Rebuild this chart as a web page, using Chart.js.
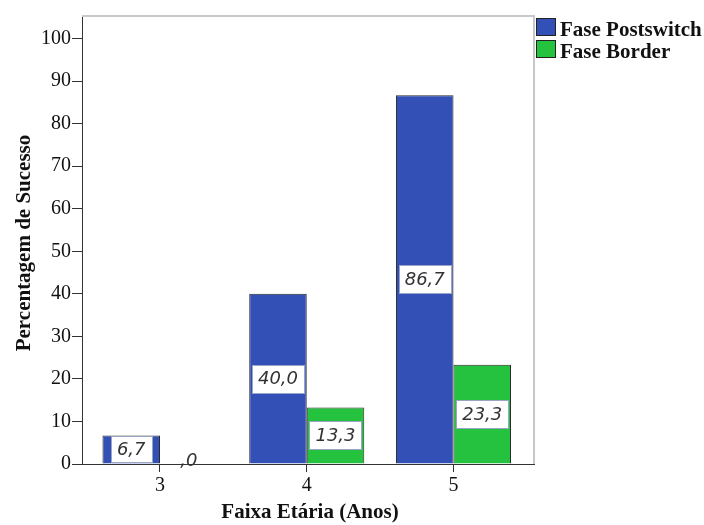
<!DOCTYPE html>
<html>
<head>
<meta charset="utf-8">
<script src="https://cdn.jsdelivr.net/npm/chart.js@4/dist/chart.umd.min.js"></script>
<style>
  html, body { margin: 0; padding: 0; background: #fff; }
  #wrap { width: 704px; height: 525px; }
</style>
</head>
<body>
<div id="wrap"><canvas id="c" width="704" height="525"></canvas></div>
<script>
// Age groups and success percentages per phase
const ages = [3, 4, 5];
const postswitch = [6.7, 40.0, 86.7];
const border = [0.0, 13.3, 23.3];
const yTicks = [0, 10, 20, 30, 40, 50, 60, 70, 80, 90, 100];

const seriesNames = ['Fase Postswitch', 'Fase Border'];
const seriesColors = ['#3350b7', '#24c23f'];

const serif = '"Liberation Serif", "Times New Roman", serif';

function fmt(v) {
  let s = v.toFixed(1).replace('.', ',');
  if (s.startsWith('0,')) s = s.slice(1);
  return s;
}

// White boxed value labels in the middle of each bar
const valueLabels = {
  id: 'valueLabels',
  afterDatasetsDraw(chart) {
    const ctx = chart.ctx;
    ctx.save();
    ctx.font = 'italic 18px "DejaVu Sans", Verdana, sans-serif';
    ctx.textAlign = 'center';
    ctx.textBaseline = 'middle';
    chart.data.datasets.forEach((ds, di) => {
      const meta = chart.getDatasetMeta(di);
      meta.data.forEach((el, i) => {
        const v = ds.data[i].y;
        const txt = fmt(v);
        const h = Math.abs(el.base - el.y);
        if (v === 0) {
          ctx.fillStyle = '#333';
          ctx.fillText(txt, el.x, el.base - 3);
          return;
        }
        const cy = (el.y + el.base) / 2;
        const w = ctx.measureText(txt).width + 12;
        const bh = Math.min(28, h - 2);
        ctx.fillStyle = '#ffffff';
        ctx.fillRect(Math.round(el.x - w / 2) + 0.5, Math.round(cy - bh / 2) + 0.5, Math.round(w), Math.round(bh));
        ctx.strokeStyle = '#9aa4c4';
        ctx.lineWidth = 1;
        ctx.strokeRect(Math.round(el.x - w / 2) + 0.5, Math.round(cy - bh / 2) + 0.5, Math.round(w), Math.round(bh));
        ctx.fillStyle = '#333';
        ctx.fillText(txt, el.x, cy + 1);
      });
    });
    ctx.restore();
  }
};

// Plot frame, axis titles and legend
const decorations = {
  id: 'decorations',
  beforeDatasetsDraw(chart) {
    const { ctx, chartArea: a } = chart;
    ctx.save();
    ctx.strokeStyle = '#c8c8c8';
    ctx.lineWidth = 2;
    ctx.beginPath();
    ctx.moveTo(a.left, a.top);
    ctx.lineTo(a.right, a.top);
    ctx.lineTo(a.right, a.bottom);
    ctx.stroke();
    ctx.restore();
  },
  afterDraw(chart) {
    const { ctx, chartArea: a } = chart;
    ctx.save();
    ctx.fillStyle = '#111';
    ctx.font = 'bold 21px ' + serif;
    // y title
    ctx.save();
    ctx.translate(30, 243);
    ctx.rotate(-Math.PI / 2);
    ctx.textAlign = 'center';
    ctx.textBaseline = 'alphabetic';
    ctx.fillText('Percentagem de Sucesso', 0, 0);
    ctx.restore();
    // x title
    ctx.textAlign = 'center';
    ctx.textBaseline = 'alphabetic';
    ctx.fillText('Faixa Etária (Anos)', (a.left + a.right) / 2 + 2, 518);
    // legend
    ctx.textAlign = 'left';
    seriesNames.forEach((name, i) => {
      const y = 18 + i * 22;
      ctx.fillStyle = seriesColors[i];
      ctx.fillRect(a.right + 2.5, y + 0.5, 19, 17);
      ctx.strokeStyle = '#222';
      ctx.lineWidth = 1;
      ctx.strokeRect(a.right + 2.5, y + 0.5, 19, 17);
      ctx.fillStyle = '#111';
      ctx.fillText(name, a.right + 26, y + 18);
    });
    ctx.restore();
  }
};

new Chart(document.getElementById('c'), {
  type: 'bar',
  data: {
    datasets: [
      { label: seriesNames[0], data: ages.map((a, i) => ({ x: a, y: postswitch[i] })),
        backgroundColor: seriesColors[0], borderColor: '#2a2a2a', borderWidth: 1 },
      { label: seriesNames[1], data: ages.map((a, i) => ({ x: a, y: border[i] })),
        backgroundColor: seriesColors[1], borderColor: '#2a2a2a', borderWidth: 1 }
    ]
  },
  options: {
    responsive: false,
    animation: false,
    categoryPercentage: 0.784,
    barPercentage: 1,
    layout: { padding: { top: 16, right: 170, left: 0, bottom: 0 } },
    plugins: { legend: { display: false }, tooltip: { enabled: false } },
    scales: {
      x: {
        type: 'linear',
        min: 2.4685,
        max: 5.5486,
        offset: false,
        afterBuildTicks: s => { s.ticks = ages.map(v => ({ value: v })); },
        afterFit: s => { s.height = 61; },
        grid: { offset: false, drawOnChartArea: false, drawTicks: true, tickLength: 8, color: '#333' },
        border: { display: true, color: '#333', width: 1 },
        ticks: { font: { family: serif, size: 20 }, color: '#111', padding: 2, callback: v => String(v) }
      },
      y: {
        min: 0,
        max: 105.3,
        afterBuildTicks: s => { s.ticks = yTicks.map(v => ({ value: v })); },
        afterFit: s => { s.width = 82; },
        grid: { drawOnChartArea: false, drawTicks: true, tickLength: 10, color: '#333' },
        border: { display: true, color: '#333', width: 1 },
        ticks: { font: { family: serif, size: 20 }, color: '#111', padding: 1, callback: v => String(v) }
      }
    }
  },
  plugins: [valueLabels, decorations]
});
</script>
</body>
</html>
